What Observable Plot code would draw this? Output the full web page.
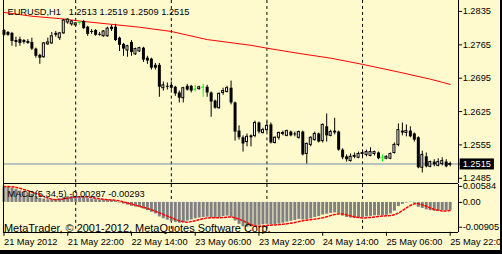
<!DOCTYPE html>
<html><head><meta charset="utf-8">
<script src="https://cdn.jsdelivr.net/npm/d3@7"></script>
<script src="https://cdn.jsdelivr.net/npm/@observablehq/plot@0.6"></script>
<style>
html,body{margin:0;padding:0;background:#fffacd;}
#wrap{position:relative;width:500px;height:250px;overflow:hidden;border-right:2px solid #000;border-bottom:4px solid #000;background:#fffacd;}
#wrap svg{display:block;position:absolute;left:0;}
#wrap text{white-space:pre;}
</style></head><body><div id="wrap"></div>
<script>
const symbol = "EURUSD", timeframe = "H1";
const open = [1.2795,1.2791,1.2789,1.2774,1.2776,1.2774,1.2772,1.2770,1.2756,1.2743,
 1.2739,1.2766,1.2768,1.2789,1.2779,1.2789,1.2812,1.2808,1.2806,1.2812,
 1.2814,1.2802,1.2793,1.2795,1.2787,1.2783,1.2783,1.2802,1.2802,1.2779,
 1.2766,1.2753,1.2770,1.2745,1.2751,1.2758,1.2737,1.2735,1.2722,1.2722,
 1.2674,1.2678,1.2680,1.2676,1.2664,1.2653,1.2678,1.2678,1.2672,1.2672,
 1.2676,1.2676,1.2664,1.2647,1.2632,1.2664,1.2666,1.2674,1.2643,1.2584,
 1.2570,1.2561,1.2574,1.2574,1.2601,1.2580,1.2586,1.2597,1.2559,1.2570,
 1.2578,1.2574,1.2582,1.2578,1.2570,1.2582,1.2536,1.2555,1.2565,1.2578,
 1.2563,1.2593,1.2574,1.2584,1.2582,1.2544,1.2530,1.2521,1.2530,1.2528,
 1.2536,1.2534,1.2532,1.2536,1.2538,1.2528,1.2526,1.2526,1.2538,1.2555,
 1.2584,1.2580,1.2584,1.2578,1.2570,1.2507,1.2530,1.2509,1.2519,1.2511,
 1.2515,1.2519,1.2513];
const high = [1.2797,1.2793,1.2791,1.2781,1.2781,1.2776,1.2776,1.2779,1.2758,1.2745,
 1.2770,1.2779,1.2791,1.2793,1.2791,1.2818,1.2820,1.2816,1.2812,1.2814,
 1.2816,1.2804,1.2797,1.2797,1.2791,1.2795,1.2802,1.2806,1.2808,1.2781,
 1.2768,1.2764,1.2774,1.2758,1.2760,1.2760,1.2741,1.2737,1.2726,1.2726,
 1.2687,1.2685,1.2687,1.2678,1.2668,1.2676,1.2682,1.2680,1.2680,1.2678,
 1.2682,1.2680,1.2666,1.2649,1.2664,1.2674,1.2678,1.2689,1.2645,1.2595,
 1.2574,1.2578,1.2576,1.2605,1.2603,1.2590,1.2603,1.2601,1.2572,1.2582,
 1.2584,1.2586,1.2584,1.2582,1.2584,1.2584,1.2559,1.2572,1.2582,1.2580,
 1.2599,1.2620,1.2586,1.2611,1.2584,1.2547,1.2534,1.2536,1.2538,1.2540,
 1.2542,1.2544,1.2549,1.2542,1.2540,1.2534,1.2532,1.2538,1.2559,1.2599,
 1.2601,1.2597,1.2593,1.2580,1.2572,1.2542,1.2538,1.2521,1.2524,1.2526,
 1.2528,1.2524,1.2519];
const low = [1.2783,1.2783,1.2762,1.2760,1.2762,1.2766,1.2766,1.2753,1.2737,1.2724,
 1.2737,1.2764,1.2766,1.2781,1.2774,1.2787,1.2808,1.2804,1.2804,1.2806,
 1.2797,1.2783,1.2787,1.2783,1.2783,1.2781,1.2781,1.2793,1.2772,1.2751,
 1.2741,1.2739,1.2741,1.2743,1.2749,1.2728,1.2724,1.2712,1.2712,1.2655,
 1.2668,1.2670,1.2670,1.2657,1.2643,1.2643,1.2668,1.2664,1.2666,1.2670,
 1.2655,1.2655,1.2613,1.2630,1.2630,1.2659,1.2664,1.2639,1.2563,1.2565,
 1.2540,1.2551,1.2551,1.2570,1.2578,1.2578,1.2582,1.2557,1.2557,1.2565,
 1.2574,1.2572,1.2572,1.2572,1.2567,1.2532,1.2515,1.2551,1.2563,1.2559,
 1.2559,1.2561,1.2572,1.2576,1.2542,1.2524,1.2519,1.2519,1.2526,1.2526,
 1.2530,1.2530,1.2530,1.2532,1.2524,1.2519,1.2524,1.2524,1.2536,1.2551,
 1.2574,1.2572,1.2570,1.2561,1.2505,1.2496,1.2507,1.2507,1.2509,1.2509,
 1.2511,1.2507,1.2509];
const close = [1.2785,1.2785,1.2772,1.2770,1.2768,1.2770,1.2768,1.2756,1.2741,1.2737,
 1.2768,1.2770,1.2783,1.2785,1.2789,1.2816,1.2818,1.2814,1.2810,1.2812,
 1.2799,1.2787,1.2791,1.2785,1.2785,1.2793,1.2799,1.2797,1.2774,1.2764,
 1.2756,1.2762,1.2749,1.2756,1.2758,1.2733,1.2731,1.2716,1.2716,1.2676,
 1.2680,1.2676,1.2674,1.2662,1.2653,1.2674,1.2670,1.2668,1.2672,1.2676,
 1.2676,1.2664,1.2645,1.2632,1.2662,1.2668,1.2674,1.2643,1.2582,1.2570,
 1.2557,1.2572,1.2570,1.2601,1.2582,1.2586,1.2595,1.2559,1.2570,1.2580,
 1.2580,1.2584,1.2574,1.2576,1.2582,1.2534,1.2557,1.2570,1.2578,1.2561,
 1.2597,1.2574,1.2582,1.2580,1.2544,1.2528,1.2524,1.2530,1.2532,1.2536,
 1.2538,1.2540,1.2540,1.2540,1.2526,1.2528,1.2530,1.2536,1.2555,1.2586,
 1.2580,1.2584,1.2572,1.2565,1.2507,1.2534,1.2509,1.2519,1.2513,1.2519,
 1.2521,1.2509,1.2515];

const maIdx = [0, 7, 14, 20, 27, 34, 42, 51, 62, 66, 74, 82, 90, 99, 107, 112];
const maVal = [1.2833,1.2825,1.2820,1.2814,1.2808,1.2802,1.2793,1.2776,1.2764,1.2758,1.2747,1.2737,1.2724,1.2708,1.2693,1.2682];

const macdMain = [0.0056,0.0055,0.0052,0.0048,0.0042,0.0038,0.0034,0.0030,0.0022,0.0015,
 0.0012,0.0010,0.0010,0.0011,0.0013,0.0018,0.0021,0.0022,0.0022,0.0021,
 0.0018,0.0014,0.0012,0.0010,0.0009,0.0009,0.0010,0.0008,0.0004,-0.0002,
 -0.0006,-0.0010,-0.0014,-0.0017,-0.0019,-0.0024,-0.0030,-0.0036,-0.0042,-0.0053,
 -0.0060,-0.0065,-0.0069,-0.0073,-0.0076,-0.0074,-0.0068,-0.0064,-0.0060,-0.0057,
 -0.0055,-0.0054,-0.0056,-0.0058,-0.0055,-0.0052,-0.0050,-0.0054,-0.0068,-0.0080,
 -0.0089,-0.00905,-0.0089,-0.0086,-0.0084,-0.0082,-0.0080,-0.0082,-0.0082,-0.0079,
 -0.0076,-0.0072,-0.0069,-0.0066,-0.0062,-0.0064,-0.0064,-0.0060,-0.0055,-0.0052,
 -0.0046,-0.0043,-0.0040,-0.0038,-0.0043,-0.0050,-0.0055,-0.0057,-0.0058,-0.0057,
 -0.0055,-0.0053,-0.0051,-0.0049,-0.0049,-0.0049,-0.0047,-0.0042,-0.0032,-0.0015,
 -0.0007,-0.0002,0.0001,-0.0003,-0.0018,-0.0022,-0.0027,-0.0030,-0.0032,-0.0032,
 -0.0031,-0.0031,-0.00287];
const macdSignal = [0.0058,0.0058,0.0057,0.0055,0.0052,0.0047,0.0043,0.0038,0.0033,0.0027,
 0.0022,0.0016,0.0012,0.0010,0.0011,0.0013,0.0015,0.0018,0.0020,0.0021,
 0.0021,0.0020,0.0018,0.0015,0.0013,0.0011,0.0010,0.0009,0.0008,0.0006,
 0.0002,-0.0002,-0.0006,-0.0010,-0.0014,-0.0018,-0.0022,-0.0027,-0.0032,-0.0038,
 -0.0044,-0.0050,-0.0056,-0.0062,-0.0067,-0.0071,-0.0072,-0.0070,-0.0067,-0.0063,
 -0.0059,-0.0057,-0.0056,-0.0056,-0.0056,-0.0055,-0.0054,-0.0053,-0.0056,-0.0061,
 -0.0067,-0.0074,-0.0081,-0.0086,-0.0087,-0.0086,-0.0084,-0.0083,-0.0082,-0.0081,
 -0.0080,-0.0078,-0.0076,-0.0073,-0.0070,-0.0067,-0.0065,-0.0063,-0.0061,-0.0059,
 -0.0056,-0.0052,-0.0048,-0.0044,-0.0042,-0.0042,-0.0045,-0.0049,-0.0053,-0.0055,
 -0.0057,-0.0056,-0.0055,-0.0053,-0.0051,-0.0050,-0.0049,-0.0048,-0.0045,-0.0039,
 -0.0030,-0.0020,-0.0011,-0.0005,-0.0005,-0.0009,-0.0014,-0.0020,-0.0026,-0.0029,
 -0.0031,-0.0031,-0.00293];

const dateTickIdx = [0, 16, 32, 48, 64, 80, 96, 112];
const dateLabels = ["21 May 2012","21 May 22:00","22 May 14:00","23 May 06:00","23 May 22:00","24 May 14:00","25 May 06:00","25 May 22:00"];
const daySeparators = [18, 42, 66, 90];
const priceTicks = [1.2835, 1.2765, 1.2695, 1.2625, 1.2555, 1.2485];
const macdTicks = [0.00584, 0, -0.00905];
const macdTickLabels = ["0.00584", "0.00", "-0.00905"];
const macdName = "MACD(5,34,5)";
const copyright = "MetaTrader, \u00a9 2001-2012, MetaQuotes Software Corp.";

const FONT = "'Liberation Sans', Arial, sans-serif";
const W = 502;
const xDomain = [-0.125, 114.125];
const idx = d3.range(open.length);
const candles = idx.map(i => ({i, o: open[i], h: high[i], l: low[i], c: close[i]}));
const bear = candles.filter(d => d.c < d.o);
const bull = candles.filter(d => d.c > d.o);
const doji = candles.filter(d => d.c === d.o);
const lastClose = close[close.length - 1];
const f4 = d => d.toFixed(4);
const titleText = `${symbol},${timeframe}   ${f4(open.at(-1))} ${f4(high.at(-1))} ${f4(low.at(-1))} ${f4(close.at(-1))}`;
const macdText = `${macdName} ${macdMain.at(-1).toFixed(5)} ${macdSignal.at(-1).toFixed(5)}`;
const style = {background: "transparent", fontFamily: FONT, fontSize: "9.3px", color: "#000", overflow: "visible"};
const border = {stroke: "#000", shapeRendering: "crispEdges"};
const sep = {stroke: "#000", strokeDasharray: "3,3"};

const yMain = [1.24735, 1.2858];
const main = Plot.plot({
  width: W, height: 184, marginLeft: 3, marginRight: 42, marginTop: 0, marginBottom: 0,
  style,
  x: {domain: xDomain, axis: null},
  y: {domain: yMain, axis: null},
  marks: [
    Plot.ruleX(daySeparators, sep),
    Plot.line(maIdx, {x: d => d, y: (d, i) => maVal[i], stroke: "#ff0000", strokeWidth: 1}),
    Plot.ruleY([lastClose], {stroke: "#7389ad"}),
    Plot.ruleX(candles.filter(d => d.c !== d.o), {x: "i", y1: "l", y2: "h", stroke: "#000"}),
    Plot.ruleX(bear, {x: "i", y1: "o", y2: "c", stroke: "#000", strokeWidth: 3}),
    Plot.rect(bull, {x1: d => d.i - 0.25, x2: d => d.i + 0.25, y1: "o", y2: "c", fill: "#fff", stroke: "#000", inset: 0}),
    Plot.ruleX(doji, {x: "i", y1: "l", y2: "h", stroke: "#00ff00"}),
    Plot.ruleY(doji, {y: "o", x1: d => d.i - 0.375, x2: d => d.i + 0.375, stroke: "#00ff00"}),
    Plot.ruleX([xDomain[0], xDomain[1]], border),
    Plot.ruleY([yMain[0]], border),
    Plot.axisY(priceTicks, {anchor: "right", tickSize: 3, tickPadding: 1, tickFormat: f4, label: null}),
    Plot.axisY([lastClose], {anchor: "right", tickSize: 3, tickPadding: 1, tickFormat: f4, label: null, fill: "#fff"}),
    Plot.text([titleText], {frameAnchor: "top-left", dx: 4, dy: 8, lineAnchor: "top", textAnchor: "start", fill: "#000"})
  ]
});

const yMacd = [-0.010909, 0.006545];
const sub = Plot.plot({
  width: W, height: 66, marginLeft: 3, marginRight: 42, marginTop: 0, marginBottom: 18,
  style,
  x: {domain: xDomain, axis: null},
  y: {domain: yMacd, axis: null},
  marks: [
    Plot.ruleX(daySeparators, sep),
    Plot.ruleX(idx, {x: d => d, y1: 0, y2: d => macdMain[d], stroke: "#808080", strokeWidth: 3}),
    Plot.line(idx, {x: d => d, y: d => macdSignal[d], stroke: "#ff0000", strokeDasharray: "2,2"}),
    Plot.ruleX([xDomain[0], xDomain[1]], border),
    Plot.ruleY([yMacd[0]], border),
    Plot.axisY(macdTicks, {anchor: "right", tickSize: 3, tickPadding: 1, tickFormat: d => macdTickLabels[macdTicks.indexOf(d)], label: null}),
    Plot.axisX(dateTickIdx, {anchor: "bottom", tickSize: 4, tickPadding: 2, tickFormat: d => dateLabels[dateTickIdx.indexOf(d)], textAnchor: "start", dx: 0, label: null}),
    Plot.text([macdText], {frameAnchor: "top-left", dx: 4, dy: 6, lineAnchor: "top", textAnchor: "start", fill: "#000"}),
    Plot.text([copyright], {frameAnchor: "top-left", dx: 0.5, dy: 40, lineAnchor: "top", textAnchor: "start", fill: "#000", fontSize: "11px"})
  ]
});

const wrap = document.getElementById("wrap");
main.style.top = "0px";
sub.style.top = "184px";
wrap.appendChild(main);
wrap.appendChild(sub);

// black box behind the current bid price label
d3.select(main).selectAll("text").each(function() {
  if (this.textContent === f4(lastClose) && this.getAttribute("transform")) {
    const b = this.getBBox();
    d3.select(this.parentNode).insert("rect", () => this)
      .attr("transform", this.getAttribute("transform"))
      .attr("x", b.x - 3).attr("y", b.y - 0.5)
      .attr("width", b.width + 6).attr("height", b.height + 1)
      .attr("fill", "#000");
  }
});
</script></body></html>
